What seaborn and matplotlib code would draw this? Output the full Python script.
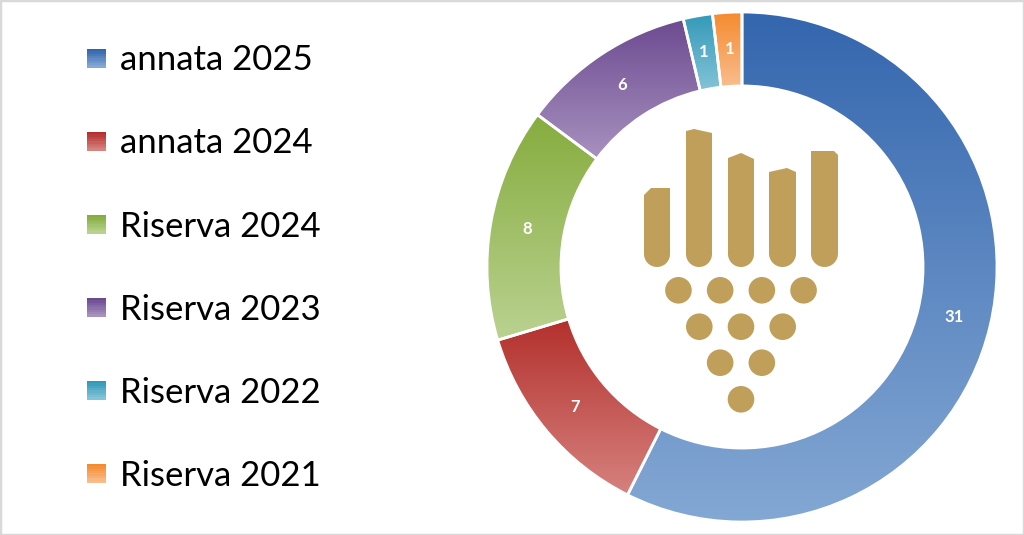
import numpy as np
import matplotlib
matplotlib.use("Agg")
import matplotlib.pyplot as plt
import seaborn as sns
from matplotlib.patches import Rectangle, Circle, Polygon
from matplotlib.legend_handler import HandlerBase

# data
labels = ["annata 2025", "annata 2024", "Riserva 2024", "Riserva 2023", "Riserva 2022", "Riserva 2021"]
values = [31, 7, 8, 6, 1, 1]
top_colors = ["#3466ae", "#b3302c", "#86ac3e", "#6c4a90", "#3399b8", "#f58a2e"]
bottom_colors = ["#84a8d4", "#d6827f", "#bad291", "#a792bf", "#84c4d8", "#f9bd8e"]

sns.set_theme(style="white")
plt.rcParams["font.family"] = ["Lato", "DejaVu Sans"]

W, H = 1024, 535
CX, CY, R = 742, 267, 255  # donut centre / radius in pixels
GOLD = "#bf9f5a"

fig = plt.figure(figsize=(W / 100, H / 100), dpi=100)
ax = fig.add_axes([(CX - R) / W, (H - CY - R) / H, 2 * R / W, 2 * R / H])

total = sum(values)
wedges, texts, autotexts = ax.pie(
    values,
    startangle=90,
    counterclock=False,
    radius=1,
    wedgeprops=dict(width=0.29, edgecolor="white", linewidth=2),
    autopct=lambda p: f"{p * total / 100:.0f}",
    pctdistance=0.855,
    textprops=dict(color="white", fontweight="bold", fontsize=12),
)

# vertical gradient inside each wedge
grad = np.linspace(0, 1, 256).reshape(-1, 1)
for w, c0, c1 in zip(wedges, top_colors, bottom_colors):
    ext = w.get_path().get_extents()
    cmap = sns.blend_palette([c0, c1], n_colors=256, as_cmap=True)
    im = ax.imshow(grad, cmap=cmap, extent=(ext.x0, ext.x1, ext.y0, ext.y1),
                   origin="upper", aspect="auto", zorder=0.5)
    im.set_clip_path(w)
    w.set_facecolor("none")

ax.set_xlim(-1, 1)
ax.set_ylim(-1, 1)
ax.set_axis_off()


# logo in the middle, drawn in pixel units around the donut centre
def px(x, y):
    return ((x - CX) / R, (CY - y) / R)


bars = [
    (644, 670, [(644, 195), (651, 188), (670, 188)]),
    (686, 712, [(686, 131), (694, 129), (712, 133)]),
    (728, 754, [(728, 158), (741, 153), (754, 159)]),
    (769, 796, [(769, 172), (787, 168), (796, 172)]),
    (811, 838, [(811, 151), (834, 151), (838, 155)]),
]
for xl, xr, top in bars:
    r = (xr - xl) / 2
    cy = 267 - r
    ang = np.linspace(0, np.pi, 30)
    arc = [(xl + r + r * np.cos(a), cy + r * np.sin(a)) for a in ang]
    pts = top + [(xr, cy)] + arc + [(xl, cy)]
    ax.add_patch(Polygon([px(x, y) for x, y in pts], closed=True, facecolor=GOLD,
                         edgecolor="none", zorder=3))

rows = [(4, 290.3), (3, 326.7), (2, 362.7), (1, 399.3)]
for n, y in rows:
    for i in range(n):
        x = 741 + (i - (n - 1) / 2) * 41.7
        ax.add_patch(Circle(px(x, y), 13.3 / R, facecolor=GOLD, edgecolor="none", zorder=3))


# legend with small gradient squares
class Swatch:
    def __init__(self, c0, c1):
        self.c0, self.c1 = c0, c1


class SwatchHandler(HandlerBase):
    def create_artists(self, legend, handle, xdescent, ydescent, width, height, fontsize, trans):
        s = 13.5
        x0 = -xdescent
        y0 = -ydescent + (height - s) / 2
        cols = sns.blend_palette([handle.c1, handle.c0], n_colors=8)
        arts = []
        for i, c in enumerate(cols):
            arts.append(Rectangle((x0, y0 + i * s / 8), s, s / 8 + 0.05, facecolor=c,
                                  edgecolor="none", transform=trans))
        return arts


handles = [Swatch(a, b) for a, b in zip(top_colors, bottom_colors)]
fig.legend(handles, labels, handler_map={Swatch: SwatchHandler()},
           loc="center left", bbox_to_anchor=(87 / W, 0.499), frameon=False,
           fontsize=25, handlelength=0.54, handletextpad=0.42, labelspacing=1.47,
           borderpad=0, borderaxespad=0, labelcolor="black")

fig.add_artist(Rectangle((0, 0), 1, 1, transform=fig.transFigure, fill=False,
                         edgecolor="#d9d9d9", linewidth=2.5))

fig.savefig("out.png", dpi=100)
